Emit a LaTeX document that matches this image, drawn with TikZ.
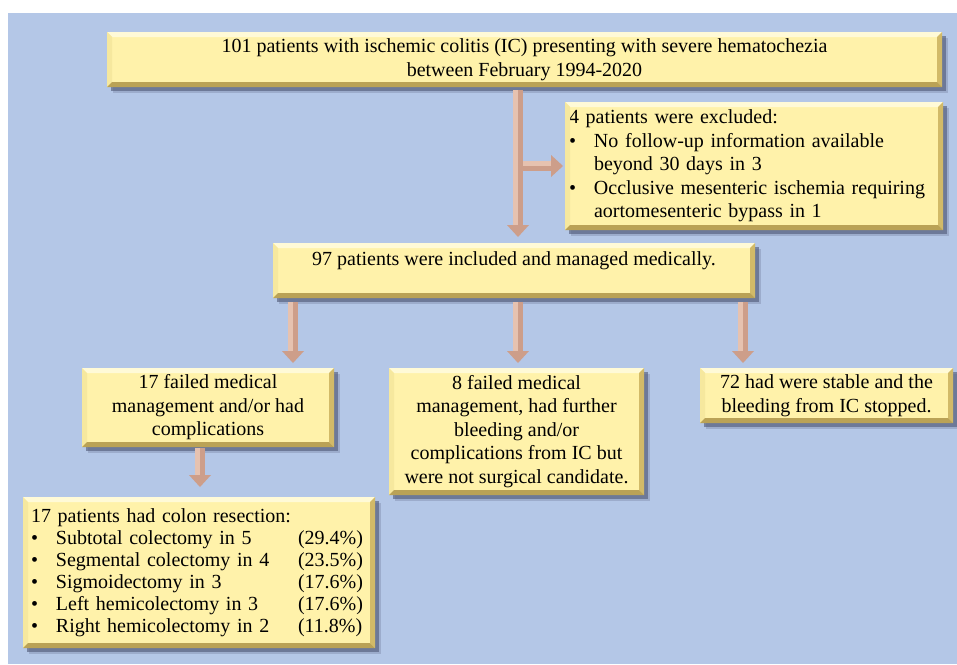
\documentclass[tikz,border=0pt]{standalone}
\usepackage{fontspec}
\setmainfont{Liberation Serif}
\usetikzlibrary{shadows,arrows.meta,calc}
\definecolor{bgblue}{RGB}{180,199,231}
\definecolor{boxfill}{RGB}{255,242,170}
\definecolor{bvtopc}{RGB}{255,250,215}
\definecolor{bvleftc}{RGB}{246,232,158}
\definecolor{bvrightc}{RGB}{210,186,104}
\definecolor{bvbotc}{RGB}{186,162,86}
\definecolor{shadowc}{RGB}{85,95,125}
\definecolor{arrowc}{RGB}{205,158,138}
\definecolor{arrowhl}{RGB}{230,194,176}
\newcommand\boxfont{\fontsize{20}{23.5}\selectfont}
\newcommand\colfont{\fontsize{20}{22}\selectfont}
\newcommand\bul{\makebox[25pt][l]{\textbullet}}
\newcommand\pline[2]{\makebox[267pt][l]{\bul #1}#2}
% #1 start, #2 end, #3 shorten start, #4 shorten end, #5 shorten end of highlight, #6 highlight shift
\newcommand\conn[6]{%
  \draw[arr, shorten <=#3, shorten >=#4] #1 -- #2;
  \draw[arrhl, shorten <=#3, shorten >=#5, transform canvas={shift={#6}}] #1 -- #2;}
\begin{document}
\begin{tikzpicture}[x=1pt,y=-1pt,
  ybox/.style={fill=boxfill, outer sep=0pt, inner sep=0pt, text=black, font=\boxfont,
    drop shadow={shadow xshift=6pt, shadow yshift=-6pt, fill=shadowc, opacity=.25},
    drop shadow={shadow xshift=4pt, shadow yshift=-4pt, fill=shadowc, opacity=.65}},
  arr/.style={draw=arrowc, line width=10pt, -{Triangle[width=22pt,length=12pt,line width=0pt]}},
  arrhl/.style={draw=arrowhl, line width=5pt}]
\useasboundingbox (0,0) rectangle (957,664);
\fill[white] (0,0) rectangle (957,664);
\fill[bgblue] (8,13) rectangle (957,664);

\node[ybox, minimum width=835pt, minimum height=55pt, align=center] (top) at (524.5,59.5)
  {101 patients with ischemic colitis (IC) presenting with severe hematochezia\\between February 1994-2020};
\node[ybox, minimum width=378pt, minimum height=128pt, inner xsep=4pt, text width=370pt, align=left] (excl) at (754,166)
  {4 patients were excluded:\\
   \bul No follow-up information available\\
   \hspace*{25pt}beyond 30 days in 3\\
   \bul Occlusive mesenteric ischemia requiring\\
   \hspace*{25pt}aortomesenteric bypass in 1};
\node[ybox, minimum width=482pt, minimum height=55pt, align=center] (inc) at (514,270.5)
  {97 patients were included and managed medically.\\\mbox{}};
\node[ybox, minimum width=252pt, minimum height=79pt, align=center] (fail) at (208,407.5)
  {17 failed medical\\management and/or had\\complications};
\node[ybox, minimum width=255pt, minimum height=127pt, align=center] (nsurg) at (516.5,431.5)
  {8 failed medical\\management, had further\\bleeding and/or\\complications from IC but\\were not surgical candidate.};
\node[ybox, minimum width=253pt, minimum height=55pt, align=center] (stable) at (826.5,395.5)
  {72 had were stable and the\\bleeding from IC stopped.};
\node[ybox, font=\colfont, minimum width=352pt, minimum height=151pt, inner xsep=8pt, text width=336pt, align=left] (colon) at (199,572.5)
  {17 patients had colon resection:\\
   \pline{Subtotal colectomy in 5}{(29.4\%)}\\
   \pline{Segmental colectomy in 4}{(23.5\%)}\\
   \pline{Sigmoidectomy in 3}{(17.6\%)}\\
   \pline{Left hemicolectomy in 3}{(17.6\%)}\\
   \pline{Right hemicolectomy in 2}{(11.8\%)}};

% bevel edges
\foreach \n in {top,excl,inc,fail,nsurg,stable,colon} {
  \fill[bvtopc] (\n.north west) -- (\n.north east) -- ([shift={(-5pt,-5pt)}]\n.north east) -- ([shift={(5pt,-5pt)}]\n.north west) -- cycle;
  \fill[bvleftc] (\n.north west) -- (\n.south west) -- ([shift={(5pt,5pt)}]\n.south west) -- ([shift={(5pt,-5pt)}]\n.north west) -- cycle;
  \fill[bvrightc] (\n.north east) -- (\n.south east) -- ([shift={(-5pt,5pt)}]\n.south east) -- ([shift={(-5pt,-5pt)}]\n.north east) -- cycle;
  \fill[bvbotc] (\n.south west) -- (\n.south east) -- ([shift={(-5pt,5pt)}]\n.south east) -- ([shift={(5pt,5pt)}]\n.south west) -- cycle;
}

\coordinate (tx) at (518,0);
\coordinate (d1) at (293,0);
\coordinate (d2) at (518,0);
\coordinate (d3) at (743,0);
\coordinate (d4) at (200,0);
\conn{(top.south -| tx)}{(inc.north -| tx)}{3pt}{6pt}{18pt}{(-2.5pt,0pt)}
\conn{(excl.west -| tx)}{(excl.west)}{5pt}{2pt}{14pt}{(0pt,2.5pt)}
\conn{(inc.south -| d1)}{(fail.north -| d1)}{4pt}{5pt}{17pt}{(-2.5pt,0pt)}
\conn{(inc.south -| d2)}{(nsurg.north -| d2)}{4pt}{5pt}{17pt}{(-2.5pt,0pt)}
\conn{(inc.south -| d3)}{(stable.north -| d3)}{4pt}{5pt}{17pt}{(-2.5pt,0pt)}
\conn{(fail.south -| d4)}{(colon.north -| d4)}{1pt}{10pt}{22pt}{(-2.5pt,0pt)}
\end{tikzpicture}
\end{document}
